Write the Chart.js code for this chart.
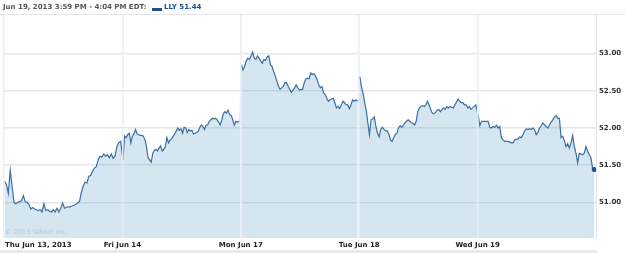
<!DOCTYPE html>
<html>
<head>
<meta charset="utf-8">
<script src="https://cdn.jsdelivr.net/npm/chart.js@4"></script>
<style>
    body { margin: 0; background: #fff; }
    #wrap { position: relative; width: 625px; height: 253px; font-family: 'DejaVu Sans', Verdana, sans-serif; }
    #chart { position: absolute; left: 0; top: 0; }
    #hdr { position: absolute; left: 0; top: 0; width: 625px; height: 14px; border-bottom: 1px solid #e1e6eb; font-size: 7px; font-weight: bold; }
    #hdr .when { position: absolute; left: 3px; top: 3px; color: #555; }
    #hdr .box { position: absolute; left: 152px; top: 8px; width: 10px; height: 3px; background: #1f4f8f; }
    #hdr .sym { position: absolute; left: 164px; top: 3px; color: #1f4f8f; }
    #wm { position: absolute; left: 5px; top: 228px; font-size: 6.5px; color: #b8c7d3; }
    #foot { position: absolute; left: 0; top: 250px; width: 597px; height: 3px; background: #ebebeb; }
</style>
</head>
<body>
<div id="wrap">
    <canvas id="chart" width="625" height="253"></canvas>
    <div id="hdr">
        <span class="when">Jun 19, 2013 3:59 PM - 4:04 PM EDT:</span>
        <span class="box"></span>
        <span class="sym">LLY 51.44</span>
    </div>
    <div id="wm">© 2013 Yahoo! Inc.</div>
    <div id="foot"></div>
</div>
<script>
// ---------------------------------------------------------
// DATA (one array per trading day)
// ---------------------------------------------------------
const dayLabels = ['Thu Jun 13, 2013', 'Fri Jun 14', 'Mon Jun 17', 'Tue Jun 18', 'Wed Jun 19'];
const yTicks = [51.00, 51.50, 52.00, 52.50, 53.00];

const thu = [51.28, 51.24, 51.12, 51.43, 51.22, 51.00, 50.98, 51.00, 51.01, 51.02, 51.09, 51.01, 51.00, 50.97, 50.91, 50.93,
    50.91, 50.90, 50.89, 50.90, 50.87, 50.98, 50.89, 50.90, 50.88, 50.87, 50.90, 50.87, 50.92, 50.87, 50.92, 50.99,
    50.92, 50.93, 50.94, 50.94, 50.95, 50.96, 50.97, 50.99, 51.01, 51.13, 51.22, 51.27, 51.26, 51.35, 51.36, 51.42,
    51.46, 51.48, 51.57, 51.62, 51.61, 51.65, 51.62, 51.64, 51.60, 51.65, 51.59, 51.62, 51.75, 51.80, 51.82];
const fri = [51.57, 51.89, 51.87, 51.91, 51.93, 51.80, 51.89, 51.92, 51.98, 51.92, 51.91, 51.90, 51.90, 51.89, 51.84, 51.75,
    51.60, 51.57, 51.54, 51.66, 51.70, 51.71, 51.69, 51.73, 51.76, 51.69, 51.71, 51.75, 51.87, 51.80, 51.84, 51.85,
    51.89, 51.92, 51.96, 52.00, 51.97, 51.99, 51.93, 52.01, 52.00, 51.94, 51.98, 51.96, 51.97, 51.92, 51.93, 51.94,
    51.96, 52.01, 52.04, 52.02, 51.98, 52.04, 52.04, 52.09, 52.11, 52.13, 52.12, 52.13, 52.11, 52.08, 52.04, 52.11,
    52.19, 52.22, 52.20, 52.24, 52.18, 52.17, 52.11, 52.04, 52.09, 52.08, 52.09];
const mon = [52.85, 52.78, 52.83, 52.90, 52.94, 52.92, 52.97, 53.02, 52.94, 52.92, 52.97, 52.94, 52.90, 52.87, 52.92, 52.91,
    52.96, 52.97, 52.85, 52.83, 52.76, 52.70, 52.63, 52.56, 52.52, 52.54, 52.56, 52.61, 52.61, 52.56, 52.52, 52.48,
    52.51, 52.54, 52.58, 52.54, 52.51, 52.52, 52.52, 52.61, 52.66, 52.67, 52.66, 52.74, 52.72, 52.73, 52.70, 52.65,
    52.58, 52.54, 52.56, 52.47, 52.45, 52.40, 52.36, 52.38, 52.39, 52.40, 52.34, 52.27, 52.29, 52.26, 52.31, 52.36,
    52.34, 52.31, 52.31, 52.26, 52.31, 52.38, 52.36, 52.38, 52.36];
const tue = [52.69, 52.56, 52.47, 52.34, 52.24, 52.07, 51.91, 52.11, 52.12, 52.15, 52.02, 51.93, 51.88, 51.98, 52.01, 51.98,
    51.96, 51.96, 51.92, 51.84, 51.82, 51.87, 51.91, 51.93, 52.00, 52.03, 52.01, 52.03, 52.07, 52.09, 52.11, 52.09,
    52.07, 52.06, 52.04, 52.09, 52.22, 52.27, 52.29, 52.30, 52.29, 52.31, 52.36, 52.31, 52.25, 52.20, 52.19, 52.21,
    52.24, 52.25, 52.22, 52.25, 52.27, 52.25, 52.29, 52.27, 52.29, 52.28, 52.27, 52.31, 52.35, 52.39, 52.36, 52.34,
    52.34, 52.31, 52.31, 52.27, 52.29, 52.25, 52.27, 52.29, 52.31];
const wed = [52.17, 52.03, 52.09, 52.09, 52.09, 52.09, 52.09, 52.01, 52.00, 52.02, 52.01, 52.04, 52.00, 52.02, 51.87, 51.84,
    51.82, 51.82, 51.82, 51.81, 51.80, 51.80, 51.84, 51.85, 51.85, 51.88, 51.87, 51.91, 51.96, 51.99, 51.98, 51.99,
    51.98, 52.00, 51.98, 51.91, 51.94, 52.00, 52.03, 52.07, 52.04, 52.02, 52.00, 52.04, 52.08, 52.11, 52.15, 52.17,
    52.13, 52.13, 51.87, 51.89, 51.83, 51.75, 51.79, 51.73, 51.80, 51.90, 51.75, 51.66, 51.53, 51.66, 51.65, 51.64,
    51.66, 51.75, 51.69, 51.64, 51.60, 51.46, 51.44];

// whether a day's first point is joined to the previous close
const joinPrev = [false, true, false, false, true];

const lineColor = '#3a6ea5';

// Build the points: each day spread over its own unit on the x axis
const points = [];
[thu, fri, mon, tue, wed].forEach((arr, d) => {
    arr.forEach((v, i) => {
        points.push({ x: d + 0.005 + 0.98 * i / (arr.length - 1), y: v, day: d });
    });
});
const lastIndex = points.length - 1;

// ---------------------------------------------------------
// X LABELS (drawn at the x scale's tick positions)
// ---------------------------------------------------------
const dayLabelPlugin = {
    id: 'dayLabels',
    afterDraw(chart) {
        const { ctx, chartArea, scales } = chart;
        ctx.save();
        ctx.font = 'bold 7px "DejaVu Sans", Verdana, sans-serif';
        ctx.fillStyle = '#222';
        ctx.textBaseline = 'middle';
        dayLabels.forEach((label, i) => {
            const px = scales.x.getPixelForValue(i);
            if (i === 0) {
                ctx.textAlign = 'left';
                ctx.fillText(label, chartArea.left + 1, chartArea.bottom + 7);
            } else {
                ctx.textAlign = 'center';
                ctx.fillText(label, px, chartArea.bottom + 7);
            }
        });
        ctx.restore();
    }
};

new Chart(document.getElementById('chart'), {
    type: 'line',
    data: {
        datasets: [{
            data: points,
            borderColor: lineColor,
            borderWidth: 1.2,
            backgroundColor: 'rgba(70,140,190,0.22)',
            fill: 'origin',
            tension: 0,
            pointRadius: ctx => ctx.dataIndex === lastIndex ? 2.5 : 0,
            pointBackgroundColor: '#1f4f8f',
            pointBorderWidth: 0,
            segment: {
                borderColor: ctx => {
                    const d0 = points[ctx.p0DataIndex].day;
                    const d1 = points[ctx.p1DataIndex].day;
                    return (d0 !== d1 && !joinPrev[d1]) ? 'rgba(0,0,0,0)' : lineColor;
                }
            }
        }]
    },
    options: {
        responsive: false,
        animation: false,
        layout: { padding: { top: 15, left: 2, right: 0, bottom: 0 } },
        plugins: {
            legend: { display: false },
            tooltip: { enabled: false }
        },
        scales: {
            x: {
                type: 'linear',
                min: 0,
                max: 5,
                afterBuildTicks: scale => { scale.ticks = dayLabels.map((_, i) => ({ value: i })); },
                afterFit: scale => { scale.height = 15; },
                ticks: { display: false },
                grid: { color: '#e8eef3', lineWidth: 1.5, drawTicks: false, z: 1 },
                border: { display: false }
            },
            y: {
                position: 'right',
                min: 50.52,
                max: 53.52,
                afterBuildTicks: scale => { scale.ticks = yTicks.map(v => ({ value: v })); },
                afterFit: scale => { scale.width = 29; },
                ticks: {
                    padding: 3,
                    color: '#333',
                    font: { family: '"DejaVu Sans", Verdana, sans-serif', size: 7, weight: 'bold' },
                    callback: v => Number(v).toFixed(2)
                },
                grid: { color: '#e3e7eb', lineWidth: 1.5, drawTicks: false },
                border: { display: true, color: '#e1e6eb', width: 1 }
            }
        }
    },
    plugins: [dayLabelPlugin]
});
</script>
</body>
</html>
